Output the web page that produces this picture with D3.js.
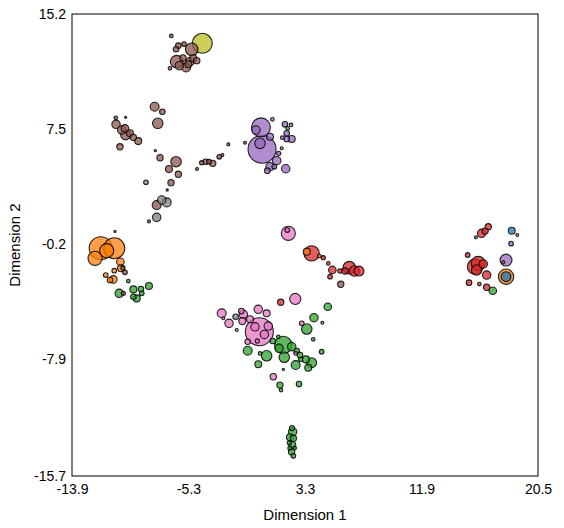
<!DOCTYPE html>
<html>
<head>
<meta charset="utf-8">
<script src="https://cdn.jsdelivr.net/npm/d3@7"></script>
<style>
  body { margin: 0; background: #fff; }
  text { font-family: "Liberation Sans", Arial, sans-serif; }
</style>
</head>
<body>
<div id="my_dataviz"></div>
<script>
// tick labels of both axes
var xTicks = [-13.9, -5.3, 3.3, 11.9, 20.5];
var yTicks = [-15.7, -7.9, -0.2, 7.5, 15.2];

// points per category: [dimension 1, dimension 2, weight]
var blue = [
  [18.56, 0.70, 11], [18.14, -2.37, 22]
];
var orange = [
  [-11.78, -0.47, 121], [-10.78, -0.47, 100], [-12.20, -1.14, 45], [-11.34, -0.63, 45],
  [-10.33, -1.37, 13], [-10.28, -1.81, 11], [-10.78, -1.97, 5], [-11.41, -2.26, 5],
  [-10.85, -2.55, 13], [-11.09, -2.59, 7], [3.43, -0.70, 11], [4.36, -0.99, 3],
  [18.14, -2.37, 53], [17.94, -1.41, 2]
];
var green = [
  [-9.74, -2.66, 3], [-10.41, -3.48, 16], [-9.37, -3.22, 11], [-8.81, -3.20, 7],
  [-8.22, -2.99, 11], [-9.12, -3.82, 11], [-9.37, -3.71, 7], [-8.75, -3.48, 5],
  [2.02, 7.55, 3],
  [4.98, -4.38, 13], [3.96, -5.11, 16], [4.58, -5.45, 2], [3.43, -5.87, 25],
  [1.33, -6.39, 3], [0.92, -6.67, 7], [1.70, -6.94, 69], [1.38, -7.16, 16],
  [2.32, -7.05, 16], [3.91, -6.56, 3], [2.69, -7.34, 7], [-0.93, -7.32, 18],
  [0.47, -7.66, 25], [-0.02, -7.50, 3], [1.77, -7.76, 25], [2.93, -7.61, 7],
  [2.98, -7.90, 4], [3.37, -7.90, 11], [3.79, -8.12, 22], [3.54, -8.46, 11],
  [2.61, -8.28, 18], [4.53, -7.39, 5], [-0.15, -8.23, 11], [1.70, -8.57, 0.5],
  [1.45, -9.62, 9], [1.53, -9.95, 3], [2.86, -9.55, 7],
  [2.34, -12.49, 6], [2.39, -12.74, 16], [2.19, -13.11, 11], [2.44, -13.18, 9],
  [2.14, -13.48, 4], [2.36, -13.63, 11], [2.19, -13.83, 4], [2.54, -13.83, 3],
  [2.31, -14.08, 9], [2.44, -14.35, 5],
  [17.16, -3.31, 13]
];
var red = [
  [3.79, -0.81, 53], [4.65, -1.10, 4], [5.02, -1.48, 3], [5.32, -1.92, 13],
  [5.15, -2.37, 5], [5.88, -1.99, 4], [6.25, -1.99, 9], [6.57, -1.77, 36],
  [6.94, -1.99, 25], [7.29, -1.99, 22], [1.51, -4.08, 9],
  [16.83, 0.97, 9], [16.59, 0.68, 9], [16.34, 0.53, 16], [15.31, -0.92, 5],
  [15.85, -1.70, 53], [16.09, -1.48, 45], [16.46, -1.52, 16], [15.97, -1.92, 25],
  [16.71, -2.26, 16], [15.41, -2.77, 7], [16.17, -2.86, 3], [16.71, -3.08, 9]
];
var purple = [
  [0.05, 7.62, 81], [0.13, 6.15, 177], [-0.32, 7.44, 16], [-0.02, 6.55, 25],
  [0.72, 6.99, 11], [0.89, 8.16, 3], [1.82, 7.82, 7], [2.27, 7.78, 3],
  [1.95, 7.22, 7], [1.62, 6.93, 3], [1.95, 6.84, 7], [2.32, 6.84, 11],
  [1.58, 6.22, 2], [1.36, 5.88, 4], [1.21, 5.39, 16], [0.72, 4.99, 16],
  [0.52, 4.72, 7], [1.03, 4.99, 5], [1.88, 4.85, 16],
  [18.14, -1.26, 32], [18.51, -0.16, 5]
];
var brown = [
  [-6.57, 13.73, 3], [-6.05, 13.08, 7], [-5.63, 13.19, 5], [-6.22, 12.84, 7],
  [-5.06, 12.84, 36], [-6.17, 12.01, 36], [-5.98, 11.74, 16], [-5.48, 11.63, 18],
  [-5.19, 12.01, 16], [-4.95, 12.24, 11], [-4.69, 12.08, 9], [-6.67, 11.57, 3],
  [-5.31, 11.84, 11], [-5.71, 12.26, 9],
  [-7.80, 9.00, 18], [-7.23, 8.66, 7], [-7.57, 7.89, 25], [-10.67, 8.26, 3],
  [-9.94, 8.29, 0.6], [-10.65, 7.82, 16], [-10.23, 7.44, 16], [-9.99, 7.55, 13],
  [-9.94, 7.11, 22], [-9.62, 7.22, 11], [-9.37, 6.95, 9], [-9.01, 6.70, 11],
  [-10.36, 6.32, 9], [-2.36, 6.48, 2], [-7.75, 6.06, 0.6], [-7.40, 5.59, 9],
  [-6.22, 5.32, 25], [-6.74, 4.83, 11], [-6.05, 4.48, 9], [-4.67, 4.83, 2],
  [-4.33, 5.25, 4], [-4.03, 5.32, 7], [-3.79, 5.32, 5], [-3.51, 5.21, 9],
  [-3.03, 5.65, 5], [-2.80, 5.77, 2], [-6.59, 3.92, 9], [-7.65, 2.42, 18],
  [-1.13, 6.59, 2], [-6.87, 3.43, 0.6], [-8.22, 1.33, 2], [-10.73, 0.66, 0.5],
  [-10.14, -1.79, 4], [-9.99, -2.08, 5], [-10.11, -3.48, 4], [5.94, -2.88, 9]
];
var pink = [
  [2.07, 0.53, 45], [1.99, 0.75, 5], [2.58, -3.86, 28], [3.06, -5.49, 5],
  [-2.85, -4.82, 18], [-2.31, -5.49, 16], [-2.73, -5.15, 2], [-1.40, -4.67, 7],
  [-1.25, -4.89, 16], [-1.33, -5.34, 11], [-0.76, -5.22, 11], [-0.15, -4.55, 16],
  [0.47, -4.82, 11], [-1.74, -5.94, 2], [-0.07, -6.05, 177], [-0.39, -5.72, 16],
  [0.30, -6.23, 16], [0.59, -5.67, 16], [-0.22, -6.67, 4], [-0.93, -6.72, 7],
  [2.61, -7.50, 3], [0.96, -9.06, 9]
];
var gray = [
  [-8.44, 3.94, 5], [-7.28, 2.76, 16], [-6.91, 2.60, 18], [-7.65, 1.60, 16],
  [-1.82, -5.05, 7], [15.92, 0.26, 2], [18.97, 0.42, 2]
];
var olive = [
  [-4.28, 13.24, 90]
];

var groups = [
  {name: "blue", color: "#1f77b4", pts: blue},
  {name: "orange", color: "#ff7f0e", pts: orange},
  {name: "green", color: "#2ca02c", pts: green},
  {name: "red", color: "#d62728", pts: red},
  {name: "purple", color: "#9467bd", pts: purple},
  {name: "brown", color: "#8c564b", pts: brown},
  {name: "pink", color: "#e377c2", pts: pink},
  {name: "gray", color: "#7f7f7f", pts: gray},
  {name: "olive", color: "#bcbd22", pts: olive}
];

// Graph dimension
var margin = {top: 14, right: 26, bottom: 52, left: 72},
    width = 564 - margin.left - margin.right,
    height = 528 - margin.top - margin.bottom;

var svg = d3.select("#my_dataviz")
  .append("svg")
    .attr("width", 564)
    .attr("height", 528)
  .append("g")
    .attr("transform", "translate(" + margin.left + "," + margin.top + ")");

// scales
var x = d3.scaleLinear().domain([-13.9, 20.5]).range([0, width]);
var y = d3.scaleLinear().domain([-15.7, 15.2]).range([height, 0]);
var size = d3.scaleSqrt().domain([0, 177]).range([0, 14]);

// flatten, big bubbles first so the small ones stay visible
var data = [];
groups.forEach(function(g) {
  g.pts.forEach(function(p) {
    data.push({x: p[0], y: p[1], w: p[2], color: g.color});
  });
});
data.sort(function(a, b) { return b.w - a.w; });

svg.selectAll(".dot")
  .data(data)
  .enter()
  .append("circle")
    .attr("class", "dot")
    .attr("cx", function(d) { return x(d.x); })
    .attr("cy", function(d) { return y(d.y); })
    .attr("r", function(d) { return Math.max(size(d.w), 1.1); })
    .style("fill", function(d) { return d.color; })
    .style("fill-opacity", 0.75)
    .style("stroke", "#000")
    .style("stroke-opacity", 0.85)
    .style("stroke-width", 1.1);

// frame
svg.append("rect")
  .attr("width", width)
  .attr("height", height)
  .style("fill", "none")
  .style("stroke", "#000")
  .style("stroke-width", 1);

// axes, no tick marks
var xAxis = svg.append("g")
  .attr("transform", "translate(0," + height + ")")
  .call(d3.axisBottom(x).tickValues(xTicks).tickSize(0).tickPadding(8)
    .tickFormat(function(d) { return d.toFixed(1); }));
var yAxis = svg.append("g")
  .call(d3.axisLeft(y).tickValues(yTicks).tickSize(0).tickPadding(6)
    .tickFormat(function(d) { return d.toFixed(1); }));

[xAxis, yAxis].forEach(function(a) {
  a.select(".domain").remove();
  a.selectAll("text")
    .style("font-size", "14px")
    .style("font-family", "'Liberation Sans', Arial, sans-serif")
    .style("fill", "#000");
});

// axis labels
svg.append("text")
  .attr("x", width / 2)
  .attr("y", height + 44)
  .attr("text-anchor", "middle")
  .style("font-size", "15px")
  .text("Dimension 1");

svg.append("text")
  .attr("transform", "rotate(-90)")
  .attr("x", -height / 2)
  .attr("y", -52)
  .attr("text-anchor", "middle")
  .style("font-size", "15px")
  .text("Dimension 2");
</script>
</body>
</html>
